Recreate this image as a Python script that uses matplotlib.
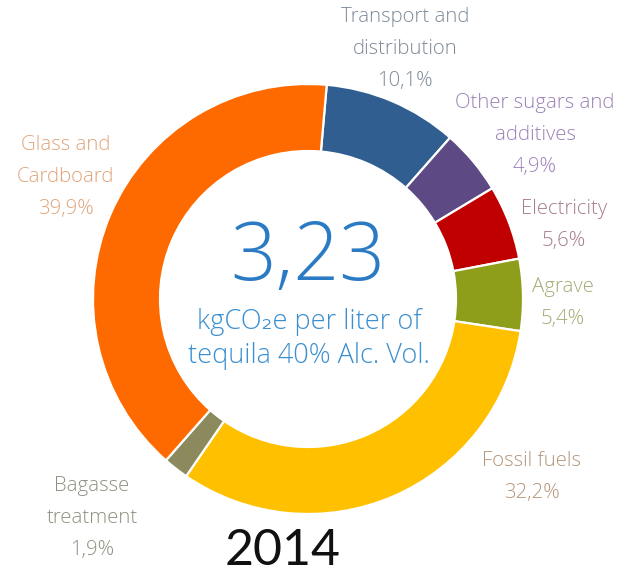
import matplotlib
matplotlib.use("Agg")
import matplotlib.pyplot as plt

# data
categories = ["Transport and\ndistribution", "Other sugars and\nadditives", "Electricity",
              "Agrave", "Fossil fuels", "Bagasse\ntreatment", "Glass and\nCardboard"]
values = [10.1, 4.9, 5.6, 5.4, 32.2, 1.9, 39.9]
value_labels = ["10,1%", "4,9%", "5,6%", "5,4%", "32,2%", "1,9%", "39,9%"]
colors = ["#305e90", "#5d4a84", "#c00000", "#8e9e1a", "#ffc000", "#8c8a5c", "#ff6a00"]
label_colors = ["#7d8b99", "#9b80b8", "#a57d8c", "#a3ab74", "#b3967a", "#8f8f80", "#e0a47a"]
label_pos = [(405, 49), (535, 135), (564, 225), (563, 303), (532, 477), (92, 518), (66, 177)]

total_value = "3,23"
year = "2014"

W, H = 628, 577
fig = plt.figure(figsize=(W / 100, H / 100), dpi=100)
ax = fig.add_axes([0, 0, 1, 1])

cx, cy, R, r = 308, 299, 215, 148
ax.pie(values, colors=colors, startangle=85, counterclock=False,
       center=(cx, H - cy), radius=R,
       wedgeprops=dict(width=R - r, edgecolor="white", linewidth=1.6))
ax.set_xlim(0, W)
ax.set_ylim(0, H)
ax.set_aspect("auto")
ax.axis("off")

fam = ["Open Sans", "DejaVu Sans"]
for cat, val, col, (x, y) in zip(categories, value_labels, label_colors, label_pos):
    ax.text(x, H - y, cat + "\n" + val, ha="center", va="center", fontsize=14.7,
            color=col, family=fam, linespacing=1.8, fontweight="light")

ax.text(cx, H - 259, total_value, ha="center", va="center", fontsize=58,
        color="#2b7bc4", family=fam, fontweight="light")
ax.text(cx + 1, H - 339, "kgCO\u2082e per liter of\ntequila 40% Alc. Vol.", ha="center",
        va="center", fontsize=19.5, color="#3a8fd0", family=fam, linespacing=1.3,
        fontweight="light")
ax.text(283, H - 551, year, ha="center", va="center", fontsize=36,
        color="#111111", family=["Lato", "DejaVu Sans"])

fig.savefig("out.png", dpi=100, facecolor="white")
